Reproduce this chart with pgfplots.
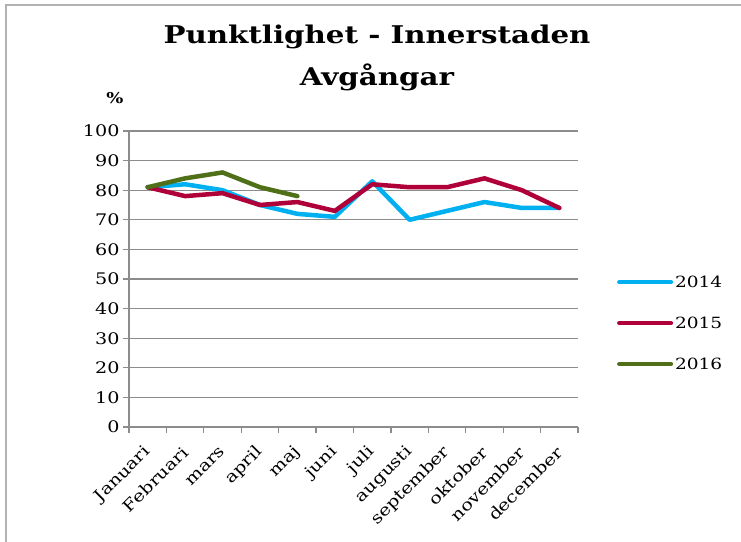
\documentclass[border=0pt]{standalone}
\usepackage{pgfplots}
\pgfplotsset{compat=1.18}
\usepackage{fontspec}
\setmainfont{DejaVu Serif}[FakeStretch=1.2]

\definecolor{c2014}{RGB}{0,176,240}
\definecolor{c2015}{RGB}{176,0,58}
\definecolor{c2016}{RGB}{79,112,24}
\definecolor{gridgray}{RGB}{140,140,140}

\begin{document}
\begin{tikzpicture}
\useasboundingbox (-129bp,-115bp) rectangle (612bp,427bp);
% outer frame (only top and left edges visible)
\draw[gray!60, line width=1.5bp] (-123bp,-115bp) -- (-123bp,422bp) -- (612bp,422bp);

\begin{axis}[
    scale only axis,
    width=449bp,
    height=296bp,
    xmin=0.5, xmax=12.5,
    ymin=0, ymax=100,
    axis x line*=bottom,
    axis y line*=left,
    axis line style={gridgray, line width=1.3bp},
    xtick={1,...,12},
    xticklabels={Januari,Februari,mars,april,maj,juni,juli,augusti,september,oktober,november,december},
    minor xtick={0.5,1.5,...,12.5},
    major x tick style={draw=none},
    minor x tick style={gridgray, line width=1.3bp},
    ytick={0,10,...,100},
    ytick style={gridgray, line width=1.3bp},
    tick align=outside,
    major tick length=6bp,
    minor tick length=6bp,
    ymajorgrids=true,
    major grid style={gridgray, line width=1.3bp},
    /pgf/number format/assume math mode=true,
    xticklabel style={font=\fontsize{16}{18}\selectfont, xshift=2.5bp, yshift=-14bp, rotate=45, anchor=east},
    yticklabel style={font=\fontsize{16}{18}\selectfont},
    legend style={at={(1.08,0.351)}, anchor=west, draw=none, fill=none,
        font=\fontsize{15.5}{17}\selectfont, row sep=24bp},
    legend cell align=left,
    legend image code/.code={\draw[#1, line width=4bp, line cap=round] (0bp,0bp) -- (52bp,0bp);},
    every axis plot/.append style={line width=4.5bp, line join=round, line cap=round},
]
\addplot[c2014] coordinates {
    (1,81) (2,82) (3,80) (4,75) (5,72) (6,71) (7,83) (8,70) (9,73) (10,76) (11,74) (12,74)
};
\addlegendentry{2014}
\addplot[c2015] coordinates {
    (1,81) (2,78) (3,79) (4,75) (5,76) (6,73) (7,82) (8,81) (9,81) (10,84) (11,80) (12,74)
};
\addlegendentry{2015}
\addplot[c2016] coordinates {
    (1,81) (2,84) (3,86) (4,81) (5,78)
};
\addlegendentry{2016}
\end{axis}

\node[align=center, font=\fontsize{24.5}{42}\selectfont\bfseries] at (248bp,369bp)
    {Punktlighet - Innerstaden\\Avgångar};
\node[font=\fontsize{15}{17}\selectfont\bfseries] at (-14bp,329bp) {\%};
\end{tikzpicture}
\end{document}
